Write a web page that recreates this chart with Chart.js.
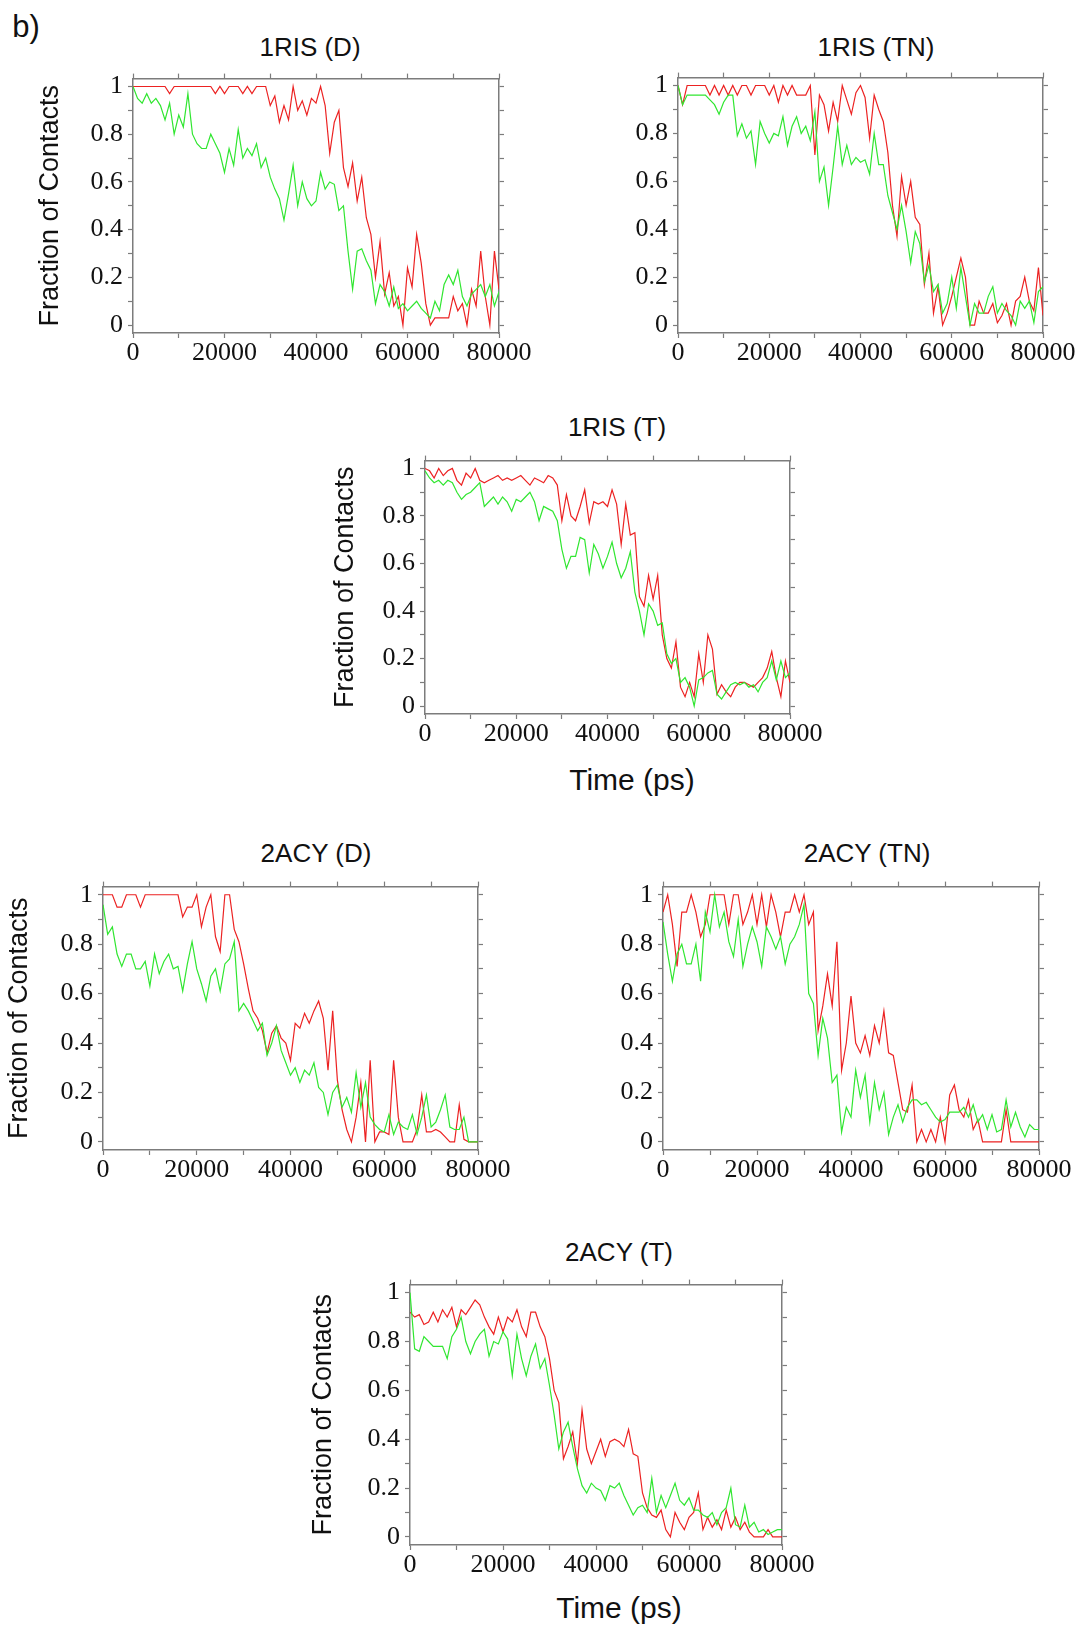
<!DOCTYPE html>
<html>
<head>
<meta charset="utf-8">
<script src="https://cdn.jsdelivr.net/npm/chart.js@4.4.1/dist/chart.umd.min.js"></script>
<style>
  body { margin: 0; background: #fff; }
  #page { position: relative; width: 1080px; height: 1629px; overflow: hidden; background: #fff; }
  .txt { position: absolute; transform: translate(-50%, -50%); font-family: "Liberation Sans", Arial, sans-serif; color: #111; white-space: nowrap; line-height: 1; }
  .ttl { font-size: 26px; }
  .xt { font-size: 30px; }
  .warm { position: absolute; left: -500px; top: 0; font-family: "Liberation Serif", serif; font-size: 26px; }
</style>
</head>
<body>
<div id="page">
  <span class="warm">0.2 20000</span>
  <div class="txt" style="left:26px;top:26px;font-size:31px">b)</div>
  <div class="txt ttl" style="left:310px;top:47px">1RIS (D)</div>
  <div class="txt ttl" style="left:876px;top:47px">1RIS (TN)</div>
  <div class="txt ttl" style="left:617px;top:427px">1RIS (T)</div>
  <div class="txt xt" style="left:632px;top:780px">Time (ps)</div>
  <div class="txt ttl" style="left:316px;top:853px">2ACY (D)</div>
  <div class="txt ttl" style="left:867px;top:853px">2ACY (TN)</div>
  <div class="txt ttl" style="left:619px;top:1252px">2ACY (T)</div>
  <div class="txt xt" style="left:619px;top:1608px">Time (ps)</div>
</div>
<script>
// time axis (ps), one sample every 1000 ps
const timePs = [0,1000,2000,3000,4000,5000,6000,7000,8000,9000,10000,11000,12000,13000,14000,15000,16000,17000,18000,19000,
  20000,21000,22000,23000,24000,25000,26000,27000,28000,29000,30000,31000,32000,33000,34000,35000,36000,37000,38000,39000,
  40000,41000,42000,43000,44000,45000,46000,47000,48000,49000,50000,51000,52000,53000,54000,55000,56000,57000,58000,59000,
  60000,61000,62000,63000,64000,65000,66000,67000,68000,69000,70000,71000,72000,73000,74000,75000,76000,77000,78000,79000,80000];

const xTickValues = [0, 10000, 20000, 30000, 40000, 50000, 60000, 70000, 80000];
const xTickLabels = ['0', '', '20000', '', '40000', '', '60000', '', '80000'];
const yTickValues = [0, 0.1, 0.2, 0.3, 0.4, 0.5, 0.6, 0.7, 0.8, 0.9, 1];
const yTickLabels = ['0', '', '0.2', '', '0.4', '', '0.6', '', '0.8', '', '1'];

// 1RIS (D)
const ris1D_red = [1,1,1,1,1,1,1,1,0.97,1, 1,1,1,1,1,1,1,1,0.97,1, 0.97,1,1,1,0.97,1,0.97,1,1,1,
  0.92,0.96,0.85,0.92,0.86,1,0.9,0.94,0.88,0.95, 0.93,1,0.92,0.72,0.85,0.9,0.66,0.58,0.68,0.52,
  0.62,0.45,0.38,0.2,0.35,0.13,0.22,0.08,0.12,0, 0.24,0.16,0.38,0.26,0.09,0,0.03,0.03,0.03,0.03,
  0.12,0.06,0.09,0,0.15,0.08,0.31,0.12,0,0.31, 0.15];
const ris1D_green = [1,0.95,0.93,0.97,0.93,0.95,0.92,0.86,0.93,0.8, 0.88,0.83,0.97,0.8,0.76,0.74,0.74,0.8,0.76,0.72,
  0.64,0.74,0.67,0.82,0.7,0.74,0.71,0.76,0.66,0.7, 0.62,0.57,0.53,0.44,0.55,0.67,0.5,0.6,0.53,0.5,
  0.52,0.64,0.57,0.6,0.59,0.48,0.5,0.31,0.15,0.31, 0.32,0.27,0.23,0.09,0.17,0.14,0.08,0.16,0.07,0.09,
  0.06,0.08,0.1,0.07,0.05,0.03,0.1,0.06,0.17,0.21, 0.17,0.23,0.12,0.08,0.13,0.15,0.17,0.12,0.17,0.08, 0.14];

// 1RIS (TN)
const ris1TN_red = [1,0.92,1,1,1,1,1,0.96,1,0.96, 1,0.96,1,0.96,1,1,0.96,1,1,1, 0.96,1,0.93,1,0.96,1,0.96,0.96,0.96,1,
  0.71,0.96,0.92,0.81,0.93,0.85,1,0.94,0.88,0.97, 1,0.95,0.78,0.96,0.9,0.85,0.72,0.5,0.37,0.62,
  0.5,0.6,0.45,0.42,0.17,0.3,0.05,0.16,0,0.05, 0.12,0.2,0.28,0.2,0,0,0.1,0.05,0.05,0.09,
  0.01,0.04,0.09,0,0.1,0.12,0.2,0.1,0.06,0.24, 0.04];
const ris1TN_green = [1,0.92,0.96,0.96,0.96,0.96,0.96,0.94,0.92,0.88, 0.93,0.96,0.96,0.79,0.84,0.78,0.81,0.67,0.85,0.8,
  0.76,0.8,0.79,0.87,0.75,0.83,0.87,0.8,0.83,0.77, 0.89,0.6,0.66,0.5,0.66,0.83,0.67,0.75,0.67,0.7,
  0.68,0.69,0.63,0.8,0.67,0.67,0.54,0.47,0.4,0.5, 0.39,0.26,0.39,0.34,0.18,0.25,0.14,0.17,0.05,0.09,
  0.2,0.07,0.24,0.12,0,0.09,0.05,0.05,0.12,0.16, 0.05,0.09,0.06,0.04,0,0.1,0.07,0.1,0.01,0.14, 0.16];

// 1RIS (T)
const ris1T_red = [1,0.99,0.96,1,0.97,0.99,1,0.95,0.93,0.98, 0.96,1,0.95,0.94,0.95,0.96,0.97,0.95,0.96,0.95,
  0.96,0.97,0.95,0.93,0.96,0.95,0.94,0.97,0.96,0.93, 0.78,0.89,0.8,0.78,0.84,0.91,0.77,0.86,0.85,0.86,
  0.84,0.91,0.85,0.68,0.85,0.72,0.73,0.46,0.42,0.55, 0.45,0.55,0.3,0.2,0.16,0.27,0.08,0.04,0.1,0.04,
  0.22,0.1,0.3,0.24,0.05,0.09,0.06,0.04,0.08,0.1, 0.1,0.09,0.08,0.1,0.12,0.16,0.23,0.12,0.04,0.19, 0.1];
const ris1T_green = [0.99,0.96,0.94,0.95,0.93,0.95,0.94,0.9,0.87,0.89, 0.9,0.92,0.94,0.84,0.86,0.88,0.85,0.88,0.86,0.82,
  0.87,0.86,0.88,0.9,0.86,0.78,0.84,0.83,0.82,0.78, 0.66,0.58,0.63,0.63,0.71,0.7,0.56,0.68,0.64,0.58,
  0.63,0.69,0.6,0.54,0.58,0.65,0.48,0.4,0.3,0.43, 0.4,0.34,0.35,0.22,0.18,0.2,0.1,0.12,0.08,0,
  0.11,0.12,0.14,0.15,0.05,0.03,0.06,0.09,0.1,0.09, 0.1,0.08,0.09,0.06,0.1,0.12,0.19,0.11,0.19,0.12, 0.14];

// 2ACY (D)
const acy2D_red = [1,1,1,0.95,0.95,1,1,1,0.95,1, 1,1,1,1,1,1,1,0.91,0.95,0.95, 1,0.87,0.95,1,0.83,0.77,1,1,0.86,0.81,
  0.72,0.62,0.53,0.5,0.45,0.36,0.44,0.47,0.42,0.4, 0.33,0.48,0.46,0.52,0.48,0.53,0.57,0.5,0.29,0.53,
  0.25,0.13,0.05,0,0.1,0.24,0,0.33,0,0.04, 0.04,0.03,0.33,0.1,0,0,0,0.05,0.19,0.04,
  0.04,0.05,0.04,0.02,0,0,0.15,0.01,0,0, 0];
const acy2D_green = [0.96,0.84,0.87,0.76,0.71,0.76,0.76,0.7,0.7,0.73, 0.63,0.76,0.68,0.73,0.76,0.7,0.71,0.61,0.72,0.81,
  0.7,0.64,0.57,0.67,0.7,0.61,0.72,0.74,0.81,0.53, 0.56,0.53,0.49,0.45,0.48,0.35,0.4,0.47,0.37,0.32,
  0.27,0.3,0.24,0.29,0.27,0.32,0.22,0.2,0.11,0.2, 0.23,0.14,0.18,0.12,0.28,0.14,0.24,0.1,0.07,0.05,
  0.04,0.11,0.03,0.08,0.06,0.05,0.11,0.03,0.1,0.19, 0.06,0.08,0.13,0.19,0.06,0.05,0.05,0.1,0,0, 0];

// 2ACY (TN)
const acy2TN_red = [0.93,1,0.88,0.71,0.93,0.93,1,0.93,0.83,0.88, 1,1,1,1,0.88,1,1,0.88,0.93,1,
  0.88,1,0.87,1,0.93,0.83,0.93,0.93,1,0.93, 1,0.88,0.93,0.45,0.55,0.68,0.55,0.81,0.29,0.4,
  0.59,0.4,0.36,0.43,0.35,0.47,0.4,0.53,0.36,0.35, 0.24,0.13,0.12,0.23,0,0.05,0,0.05,0,0.1,
  0,0.19,0.23,0.13,0.1,0.17,0.05,0.09,0,0, 0,0,0,0.13,0,0,0,0,0,0, 0];
const acy2TN_green = [0.89,0.76,0.65,0.76,0.8,0.72,0.72,0.8,0.65,0.93, 0.85,1,0.87,0.93,0.81,0.75,0.9,0.71,0.8,0.87,
  0.81,0.71,0.87,0.83,0.78,0.83,0.72,0.8,0.83,0.88, 0.96,0.6,0.56,0.35,0.5,0.42,0.24,0.27,0.04,0.14,
  0.1,0.29,0.18,0.27,0.08,0.24,0.13,0.2,0.03,0.1, 0.15,0.08,0.14,0.17,0.17,0.15,0.16,0.13,0.1,0.08,
  0.09,0.12,0.12,0.12,0.14,0.1,0.15,0.08,0.11,0.05, 0.11,0.04,0.05,0.17,0.06,0.12,0.06,0.02,0.07,0.05, 0.05];

// 2ACY (T)
const acy2T_red = [0.92,0.9,0.91,0.87,0.88,0.92,0.88,0.93,0.9,0.94, 0.86,0.93,0.91,0.94,0.97,0.95,0.9,0.86,0.83,0.9,
  0.84,0.9,0.88,0.93,0.86,0.82,0.92,0.92,0.86,0.82, 0.73,0.6,0.55,0.32,0.37,0.43,0.3,0.52,0.36,0.3,
  0.35,0.4,0.33,0.39,0.4,0.39,0.37,0.44,0.34,0.33, 0.18,0.12,0.09,0.08,0.11,0.03,0,0.1,0.06,0.03,
  0.08,0.1,0.18,0.03,0.08,0.04,0.07,0.03,0.11,0.04, 0.08,0.03,0.06,0.02,0,0,0,0.03,0,0, 0];
const acy2T_green = [1,0.77,0.76,0.82,0.8,0.78,0.78,0.78,0.73,0.82, 0.85,0.9,0.8,0.75,0.8,0.83,0.85,0.74,0.8,0.79,
  0.84,0.81,0.66,0.83,0.73,0.66,0.74,0.79,0.69,0.73, 0.62,0.5,0.36,0.43,0.47,0.37,0.28,0.21,0.18,0.22,
  0.2,0.19,0.15,0.21,0.2,0.22,0.17,0.13,0.09,0.12, 0.13,0.1,0.24,0.1,0.17,0.12,0.17,0.22,0.15,0.13,
  0.16,0.11,0.11,0.09,0.08,0.1,0.05,0.1,0.12,0.2, 0.05,0.04,0.13,0.04,0.06,0.02,0.03,0.01,0.02,0.03, 0.03];

const redColor = 'rgb(236, 34, 34)';
const greenColor = 'rgb(48, 230, 48)';
const axisGray = '#7c7c7c';
const yMin = -0.033, yMax = 1.033;

// box = plot frame in page pixels [left, top, right, bottom]
const panels = [
  { red: ris1D_red,  green: ris1D_green,  box: [133, 76, 499, 333],   wLeft: 99,  yTitle: true },
  { red: ris1TN_red, green: ris1TN_green, box: [678, 75, 1043, 333],  wLeft: 99,  yTitle: false },
  { red: ris1T_red,  green: ris1T_green,  box: [425, 458, 790, 714],  wLeft: 96,  yTitle: true },
  { red: acy2D_red,  green: acy2D_green,  box: [103, 884, 478, 1150], wLeft: 100, yTitle: true },
  { red: acy2TN_red, green: acy2TN_green, box: [663, 884, 1039, 1150],wLeft: 100, yTitle: false },
  { red: acy2T_red,  green: acy2T_green,  box: [410, 1282, 782, 1545],wLeft: 103, yTitle: true }
];

const serif = { family: "'Liberation Serif', 'Times New Roman', Times, serif", size: 26 };

function gridOpts() {
  return { drawOnChartArea: false, drawTicks: true, tickLength: 5, color: axisGray, tickColor: axisGray, tickWidth: 1.2 };
}

function xAxis(pos, showLabels, h) {
  return {
    type: 'linear', position: pos, min: 0, max: 80000,
    afterBuildTicks: s => { s.ticks = xTickValues.map(v => ({ value: v })); },
    afterFit: s => { s.height = h; },
    grid: gridOpts(),
    border: { display: true, color: axisGray, width: 1.5 },
    ticks: { display: showLabels, autoSkip: false, maxRotation: 0, minRotation: 0, padding: 0, color: '#111', font: serif,
      callback: (v, i) => xTickLabels[i] }
  };
}

function yAxis(pos, showLabels, w, title) {
  return {
    type: 'linear', position: pos, min: yMin, max: yMax,
    afterBuildTicks: s => { s.ticks = yTickValues.map(v => ({ value: v })); },
    afterFit: s => { s.width = w; },
    grid: gridOpts(),
    border: { display: true, color: axisGray, width: 1.5 },
    ticks: { display: showLabels, autoSkip: false, padding: 5, color: '#111', font: serif,
      callback: (v, i) => yTickLabels[i] },
    title: { display: !!title, text: title || '', color: '#111', padding: 0,
      font: { family: "'Liberation Sans', Arial, sans-serif", size: 27 } }
  };
}

function makePanel(p) {
  const [l, t, r, b] = p.box;
  const padT = 8, padR = 36, topH = 10, rightW = 12, bottomH = 40;
  const w = p.wLeft + (r - l) + rightW + padR;
  const h = padT + topH + (b - t) + bottomH;
  const cv = document.createElement('canvas');
  cv.width = w; cv.height = h;
  cv.style.cssText = `position:absolute;left:${l - p.wLeft}px;top:${t - topH - padT}px;width:${w}px;height:${h}px`;
  document.getElementById('page').appendChild(cv);

  new Chart(cv.getContext('2d'), {
    type: 'line',
    data: {
      labels: timePs,
      datasets: [
        { label: 'green', data: p.green, borderColor: greenColor, borderWidth: 1.2, pointRadius: 0, tension: 0, fill: false },
        { label: 'red', data: p.red, borderColor: redColor, borderWidth: 1.2, pointRadius: 0, tension: 0, fill: false }
      ]
    },
    options: {
      responsive: false,
      animation: false,
      devicePixelRatio: 1,
      layout: { autoPadding: false, padding: { top: padT, right: padR, left: 0, bottom: 0 } },
      plugins: { legend: { display: false }, tooltip: { enabled: false }, title: { display: false } },
      scales: {
        x: xAxis('bottom', true, bottomH),
        xTop: xAxis('top', false, topH),
        y: yAxis('left', true, p.wLeft, p.yTitle ? 'Fraction of Contacts' : ''),
        yRight: yAxis('right', false, rightW, '')
      }
    }
  });
}

const fontsReady = document.fonts
  ? Promise.all([document.fonts.load("26px 'Liberation Serif'"), document.fonts.load("27px 'Liberation Sans'")])
  : Promise.resolve();
fontsReady.catch(() => {}).then(() => panels.forEach(makePanel));
</script>
</body>
</html>
